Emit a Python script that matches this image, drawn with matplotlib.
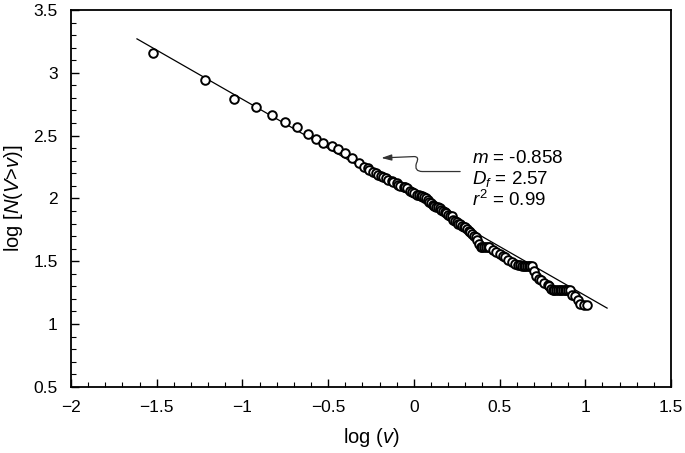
import numpy as np
import matplotlib
matplotlib.use("Agg")
import matplotlib.pyplot as plt
from matplotlib.path import Path
from matplotlib.patches import FancyArrowPatch
from matplotlib.ticker import MultipleLocator, FuncFormatter

# === Data ===
log_v = [-1.52, -1.22, -1.05, -0.92, -0.83, -0.75, -0.68, -0.62, -0.57, -0.53,
         -0.48, -0.44, -0.40, -0.36, -0.32, -0.29, -0.27, -0.26, -0.24, -0.22,
         -0.21, -0.19, -0.18, -0.16, -0.15, -0.13, -0.12, -0.10, -0.09, -0.08,
         -0.06, -0.05, -0.04, -0.02, -0.01, 0.00, 0.02, 0.03, 0.04,
         0.05, 0.06, 0.07, 0.08, 0.09, 0.10, 0.11, 0.12, 0.13, 0.14, 0.15,
         0.16, 0.17, 0.18, 0.19, 0.20, 0.21, 0.22, 0.23, 0.24, 0.25, 0.26,
         0.27, 0.28, 0.29, 0.30, 0.31, 0.32, 0.33, 0.34, 0.35,
         0.36, 0.37, 0.38, 0.39, 0.40, 0.41, 0.42, 0.43, 0.44, 0.46,
         0.48, 0.50, 0.52, 0.53, 0.55, 0.57, 0.59, 0.61, 0.62, 0.63,
         0.64, 0.65, 0.66, 0.67, 0.68, 0.69, 0.70, 0.71,
         0.73, 0.74, 0.76, 0.78, 0.79, 0.80, 0.81, 0.82, 0.83, 0.84, 0.85,
         0.86, 0.87, 0.88, 0.89, 0.90, 0.91, 0.92, 0.94, 0.96, 0.97, 0.99, 1.01]
log_n = [3.16, 2.94, 2.79, 2.73, 2.66, 2.61, 2.57, 2.51, 2.47, 2.44,
         2.42, 2.39, 2.36, 2.32, 2.28, 2.25, 2.24, 2.23, 2.21, 2.20,
         2.19, 2.18, 2.17, 2.16, 2.15, 2.14, 2.13, 2.12, 2.11, 2.10,
         2.09, 2.09, 2.08, 2.06, 2.05, 2.04, 2.03, 2.03, 2.02,
         2.02, 2.01, 2.00, 1.99, 1.97, 1.96, 1.95, 1.94, 1.93, 1.93, 1.92,
         1.91, 1.90, 1.89, 1.88, 1.87, 1.86, 1.86, 1.83, 1.82, 1.81, 1.80,
         1.80, 1.78, 1.77, 1.77, 1.76, 1.74, 1.73, 1.72, 1.70,
         1.69, 1.67, 1.64, 1.61, 1.61, 1.61, 1.61, 1.61, 1.61, 1.59,
         1.57, 1.56, 1.54, 1.53, 1.51, 1.49, 1.48, 1.47, 1.47, 1.46,
         1.46, 1.46, 1.46, 1.46, 1.46, 1.46, 1.42, 1.38,
         1.36, 1.35, 1.33, 1.31, 1.30, 1.28, 1.27, 1.27, 1.27, 1.27, 1.27,
         1.27, 1.27, 1.27, 1.27, 1.27, 1.27, 1.23, 1.22, 1.19, 1.16, 1.15, 1.15]

fit_x = [-1.615, 1.127]
fit_y = [3.27, 1.127]

stats_text = ["$m$ = -0.858", "$D_f$ = 2.57", "$r^2$ = 0.99"]

# === Fonts ===
plt.rcParams["font.family"] = ["Liberation Sans", "DejaVu Sans"]
plt.rcParams["mathtext.fontset"] = "custom"
plt.rcParams["mathtext.rm"] = "Liberation Sans"
plt.rcParams["mathtext.it"] = "Liberation Sans:italic"

fig = plt.figure(figsize=(6.85, 4.53), dpi=100)
ax = fig.add_axes([0.1036, 0.146, 0.876, 0.832])

# fitted line
ax.plot(fit_x, fit_y, color="black", lw=0.9, zorder=2)

# data points
ax.plot(log_v, log_n, linestyle="none", marker="o", ms=6.2, mfc="white",
        mec="black", mew=1.4, zorder=3)

# annotation
for i, t in enumerate(stats_text):
    ax.text(0.34, 2.32 - i * 0.168, t, fontsize=13.5, va="center", ha="left")

verts = [(0.27, 2.214), (0.05, 2.214), (0.0, 2.214), (0.015, 2.28),
         (0.035, 2.335), (0.0, 2.333), (-0.19, 2.322)]
codes = [Path.MOVETO, Path.LINETO, Path.CURVE3, Path.CURVE3,
         Path.CURVE3, Path.CURVE3, Path.LINETO]
arrow = FancyArrowPatch(path=Path(verts, codes), arrowstyle="-|>,head_length=6,head_width=1.8",
                        color="#333333", lw=0.9, mutation_scale=1)
ax.add_patch(arrow)

# axes formatting
ax.set_xlim(-2, 1.5)
ax.set_ylim(0.5, 3.5)
ax.xaxis.set_major_locator(MultipleLocator(0.5))
ax.xaxis.set_minor_locator(MultipleLocator(0.1))
ax.yaxis.set_major_locator(MultipleLocator(0.5))
ax.yaxis.set_minor_locator(MultipleLocator(0.1))
ax.tick_params(which="both", direction="in", top=False, right=False, labelsize=12.5)
ax.tick_params(which="major", length=6, width=1, pad=9.5)
ax.tick_params(which="minor", length=3.5, width=0.8)
for s in ax.spines.values():
    s.set_linewidth(1.3)

ax.xaxis.set_major_formatter(FuncFormatter(lambda v, p: f"{v:g}".replace("-", "\u2212")))
ax.yaxis.set_major_formatter(FuncFormatter(lambda v, p: f"{v:g}"))
ax.set_xlabel("log ($v$)", fontsize=14.5, labelpad=8)
ax.set_ylabel("log [$N$($V$>$v$)]", fontsize=14.5, labelpad=6)

fig.savefig("out.png", dpi=100)
